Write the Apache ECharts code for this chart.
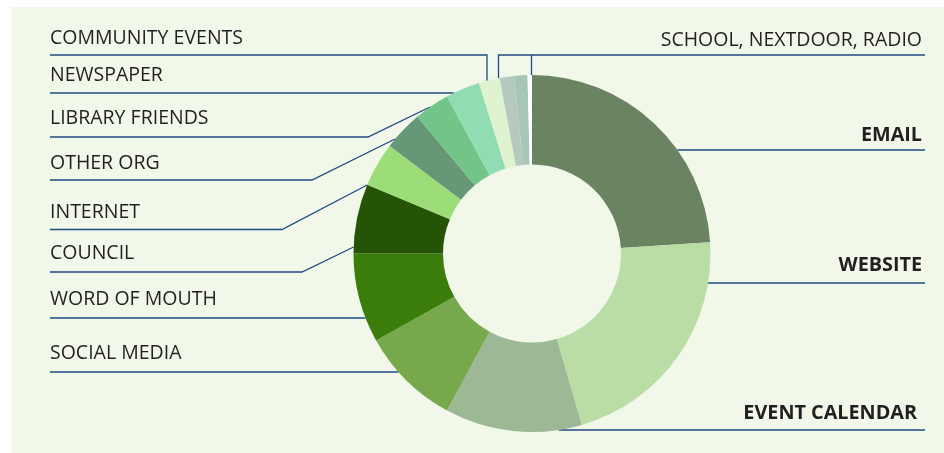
<!DOCTYPE html>
<html><head><meta charset="utf-8">
<script src="https://cdn.jsdelivr.net/npm/echarts@6/dist/echarts.min.js"></script>
<style>html,body{margin:0;padding:0;background:#fff;} #c{width:944px;height:453px;}</style>
</head><body><div id="c"></div>
<script>
// ---- data ----
const categories = ['EMAIL','WEBSITE','EVENT CALENDAR','SOCIAL MEDIA','WORD OF MOUTH','COUNCIL','INTERNET','OTHER ORG','LIBRARY FRIENDS','NEWSPAPER','COMMUNITY EVENTS','SCHOOL','NEXTDOOR','RADIO'];
const values = [24.0, 21.5, 12.4, 9.0, 8.1, 6.3, 4.0, 3.6, 3.2, 3.1, 1.9, 1.3, 1.2, 0.4];
const labelTexts = ['EMAIL','WEBSITE','EVENT CALENDAR','SOCIAL MEDIA','WORD OF MOUTH','COUNCIL','INTERNET','OTHER ORG','LIBRARY FRIENDS','NEWSPAPER','COMMUNITY EVENTS','SCHOOL, NEXTDOOR, RADIO','',''];

// ---- styles / layout ----
const colors = ['#6a8462','#badca5','#9db895','#77a84b','#3a7d0a','#265406','#9ddd78','#669878','#72c489','#92dcb3','#dff3d0','#b6c9be','#a8c6b8','#ffffff'];
const boldLabel = [true,true,true,false,false,false,false,false,false,false,false,false,false,false];
const CX = 532, CY = 253.5, R0 = 89, R1 = 178.5;
const LEFT_X = 50, RIGHT_X = 922, RIGHT_LINE_X = 925;
// side, text centre y, underline y, optional bend x, anchor: 'h' (horizontal to ring), {y}, {x}
const layout = [
  {side:'r', ty:135, ly:150, a:'h'},
  {side:'r', ty:265, ly:283, a:'h'},
  {side:'r', ty:413, ly:430, a:'h', rx:917},
  {side:'l', ty:353, ly:372, a:'h'},
  {side:'l', ty:299.5, ly:318, a:'h'},
  {side:'l', ty:253.5, ly:272, bx:302, a:{y:247}},
  {side:'l', ty:212.5, ly:229.5, bx:282, a:{y:185}},
  {side:'l', ty:163, ly:180, bx:312, a:{y:139}},
  {side:'l', ty:118, ly:137, bx:368, a:{y:107}},
  {side:'l', ty:75, ly:93, a:'h'},
  {side:'l', ty:38.5, ly:55, a:{x:487}},
  {side:'r', ty:40, ly:55, a:{x:498.5}, a2:{x:531.5}},
  null,
  null
];

function ringXAtY(y, side) {
  const d = Math.sqrt(Math.max(0, R1 * R1 - (y - CY) * (y - CY)));
  return side === 'l' ? CX - d : CX + d;
}
function ringYAtX(x) {
  return CY - Math.sqrt(Math.max(0, R1 * R1 - (x - CX) * (x - CX)));
}

const chart = echarts.init(document.getElementById('c'), null, {renderer: 'canvas'});
const data = categories.map((name, i) => ({
  name: name,
  value: values[i],
  itemStyle: {color: colors[i]},
  label: {
    show: layout[i] != null,
    formatter: labelTexts[i],
    fontWeight: boldLabel[i] ? 'bold' : 'normal',
    fontSize: boldLabel[i] ? 19.8 : 19.5
  },
  labelLine: {show: layout[i] != null}
}));

chart.setOption({
  animation: false,
  graphic: [{type: 'rect', z: -10, shape: {x: 11, y: 7, width: 940, height: 450}, style: {fill: '#f1f8ea'}}],
  series: [{
    type: 'pie',
    center: [CX, CY],
    radius: [R0, R1],
    startAngle: 90,
    clockwise: true,
    avoidLabelOverlap: false,
    silent: true,
    emphasis: {disabled: true},
    label: {
      position: 'outside',
      color: '#231f20',
      fontFamily: 'Open Sans',
      fontSize: 19.5
    },
    labelLine: {show: true, lineStyle: {color: '#1f4a82', width: 1.3}},
    labelLayout: function (p) {
      const L = layout[p.dataIndex];
      if (!L) return {};
      const endX = L.side === 'l' ? LEFT_X : RIGHT_LINE_X;
      let pts;
      if (L.a === 'h') {
        const x0 = ringXAtY(L.ly, L.side);
        pts = [[x0, L.ly], [x0, L.ly], [endX, L.ly]];
      } else if (L.a.y != null) {
        const x0 = ringXAtY(L.a.y, L.side);
        pts = [[x0, L.a.y], [L.bx, L.ly], [endX, L.ly]];
      } else {
        const y0 = ringYAtX(L.a.x);
        pts = [[L.a.x, y0], [L.a.x, L.ly], [endX, L.ly]];
        if (L.a2) {
          const y2 = ringYAtX(L.a2.x);
          pts = [[L.a.x, y0], [L.a.x, L.ly], [L.a2.x, L.ly], [L.a2.x, y2], [L.a2.x, L.ly], [endX, L.ly]];
        }
      }
      return {
        x: L.side === 'l' ? LEFT_X : (L.rx || RIGHT_X),
        y: L.ty,
        align: L.side === 'l' ? 'left' : 'right',
        verticalAlign: 'middle',
        labelLinePoints: pts
      };
    },
    data: data
  }]
});
</script>
</body></html>
